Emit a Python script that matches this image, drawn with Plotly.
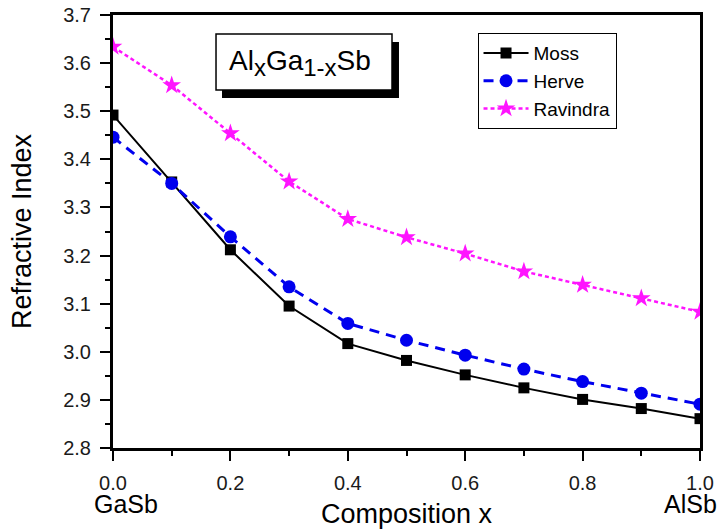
import plotly.graph_objects as go

composition = [0.0, 0.1, 0.2, 0.3, 0.4, 0.5, 0.6, 0.7, 0.8, 0.9, 1.0]
moss = [3.492, 3.353, 3.212, 3.095, 3.017, 2.982, 2.952, 2.925, 2.901, 2.882, 2.861]
herve = [3.446, 3.350, 3.239, 3.135, 3.059, 3.024, 2.993, 2.964, 2.938, 2.914, 2.891]
ravindra = [3.634, 3.554, 3.454, 3.354, 3.276, 3.238, 3.204, 3.167, 3.139, 3.111, 3.083]

x_tick_vals = [0.0, 0.2, 0.4, 0.6, 0.8, 1.0]
x_tick_text = ["0.0", "0.2", "0.4", "0.6", "0.8", "1.0"]
y_tick_vals = [2.8, 2.9, 3.0, 3.1, 3.2, 3.3, 3.4, 3.5, 3.6, 3.7]
y_tick_text = ["2.8", "2.9", "3.0", "3.1", "3.2", "3.3", "3.4", "3.5", "3.6", "3.7"]
end_labels = ["GaSb", "AlSb"]
end_positions = [0.0, 1.0]

FONT = "Liberation Sans, Arial, sans-serif"

fig = go.Figure()
fig.add_trace(go.Scatter(x=composition, y=moss, name="Moss", mode="lines+markers",
                         line=dict(color="black", width=2),
                         marker=dict(symbol="square", size=11, color="black")))
fig.add_trace(go.Scatter(x=composition, y=herve, name="Herve", mode="lines+markers",
                         line=dict(color="#0000ee", width=3, dash="10px,7px"),
                         marker=dict(symbol="circle", size=13, color="#0000ee")))
fig.add_trace(go.Scatter(x=composition, y=ravindra, name="Ravindra", mode="lines+markers",
                         line=dict(color="#ff14ff", width=2.5, dash="4px,3px"),
                         marker=dict(symbol="star", size=14, color="#ff14ff")))

axis_common = dict(showline=True, linecolor="black", linewidth=3, mirror=True,
                   showgrid=False, zeroline=False, ticks="outside", ticklen=10,
                   tickwidth=2, tickcolor="black", automargin=False,
                   ticklabelstandoff=5,
                   tickfont=dict(family=FONT, size=20, color="#1a1a1a"))

fig.update_xaxes(range=[0, 1], tickvals=x_tick_vals, ticktext=x_tick_text,
                 minor=dict(ticks="outside", ticklen=5, tickwidth=2, tickcolor="black", dtick=0.1, tick0=0),
                 title=dict(text="Composition x", font=dict(family=FONT, size=27, color="black"), standoff=12),
                 **axis_common)
fig.update_yaxes(range=[2.8, 3.7], tickvals=y_tick_vals, ticktext=y_tick_text,
                 minor=dict(ticks="outside", ticklen=5, tickwidth=2, tickcolor="black", dtick=0.05, tick0=2.8),
                 title=dict(text="Refractive Index", font=dict(family=FONT, size=27, color="black"), standoff=24),
                 **axis_common)

for xv, lab, shift in zip(end_positions, end_labels, [13, -10]):
    fig.add_annotation(x=xv, y=0, xref="x", yref="paper", yshift=-56, xshift=shift, text=lab,
                       showarrow=False, font=dict(family=FONT, size=25, color="black"),
                       xanchor="center", yanchor="middle")

# title box with drop shadow
fig.add_shape(type="rect", xref="paper", yref="paper", x0=0.1857, x1=0.4872, y0=0.8083, y1=0.9376,
              fillcolor="black", line=dict(width=0), layer="above")
fig.add_shape(type="rect", xref="paper", yref="paper", x0=0.1755, x1=0.4753, y0=0.8268, y1=0.956,
              fillcolor="white", line=dict(color="black", width=1.5), layer="above")
fig.add_annotation(x=0.318, y=0.89, xref="paper", yref="paper", xanchor="center", yanchor="middle",
                   text=("Al<sub><span style='font-size:24px'>x</span></sub>"
                         "Ga<sub><span style='font-size:24px'>1-x</span></sub>Sb"),
                   showarrow=False,
                   font=dict(family=FONT, size=28, color="black"))

fig.update_layout(
    width=719, height=531,
    margin=dict(l=113, r=19, t=15, b=83),
    plot_bgcolor="white", paper_bgcolor="white",
    showlegend=True,
    legend=dict(x=0.621, y=0.958, xanchor="left", yanchor="top",
                bgcolor="white", bordercolor="black", borderwidth=1,
                font=dict(family=FONT, size=19, color="black"),
                tracegroupgap=0, itemwidth=45),
    font=dict(family=FONT),
)

fig.write_html("out.html")
